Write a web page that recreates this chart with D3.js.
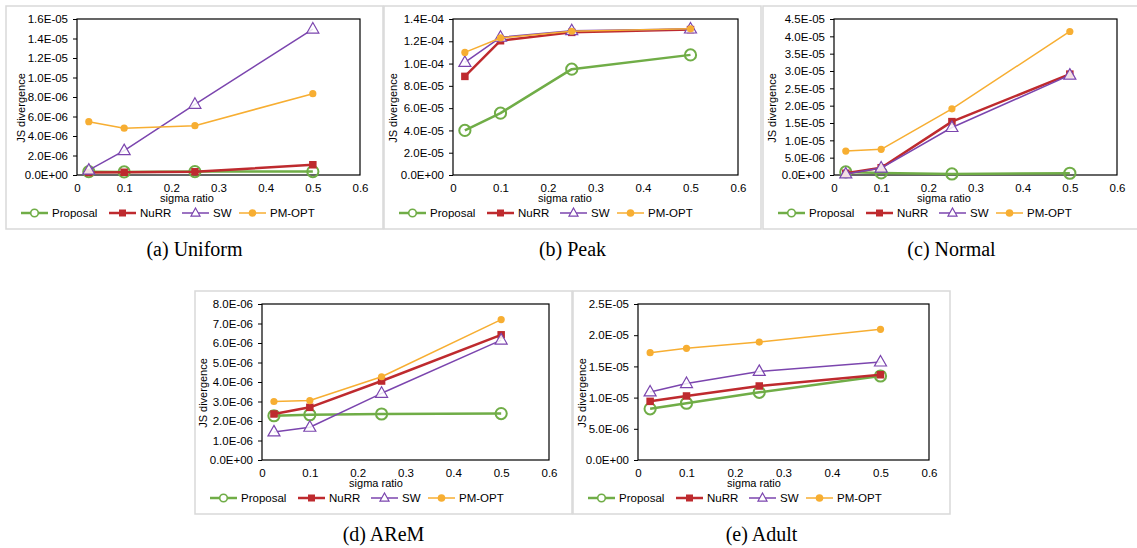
<!DOCTYPE html>
<html><head><meta charset="utf-8">
<script src="https://cdn.jsdelivr.net/npm/d3@7"></script>
<style>
html,body{margin:0;padding:0;background:#fff;}
svg{display:block;}
</style></head>
<body>
<svg id="chart" width="1137" height="548"></svg>
<script>
// ---------- data ----------
const sigmaRatios = [0.025, 0.1, 0.25, 0.5];
const seriesNames = ["Proposal", "NuRR", "SW", "PM-OPT"];
const xTickValues = [0, 0.1, 0.2, 0.3, 0.4, 0.5, 0.6];
const captions = ["(a) Uniform", "(b) Peak", "(c) Normal", "(d) AReM", "(e) Adult"];

const uniformProposal = [3.4e-7, 3.2e-7, 3.5e-7, 3.5e-7];
const uniformNuRR     = [2.6e-7, 2.8e-7, 3.3e-7, 1.05e-6];
const uniformSW       = [5.0e-7, 2.5e-6, 7.25e-6, 1.497e-5];
const uniformPMOPT    = [5.47e-6, 4.8e-6, 5.06e-6, 8.34e-6];
const uniformYTicks   = [0, 2e-6, 4e-6, 6e-6, 8e-6, 1.0e-5, 1.2e-5, 1.4e-5, 1.6e-5];

const peakProposal = [4.0e-5, 5.55e-5, 9.5e-5, 1.078e-4];
const peakNuRR     = [8.85e-5, 1.205e-4, 1.28e-4, 1.305e-4];
const peakSW       = [1.01e-4, 1.236e-4, 1.295e-4, 1.31e-4];
const peakPMOPT    = [1.10e-4, 1.23e-4, 1.29e-4, 1.312e-4];
const peakYTicks   = [0, 2e-5, 4e-5, 6e-5, 8e-5, 1.0e-4, 1.2e-4, 1.4e-4];

const normalProposal = [9e-7, 6e-7, 3e-7, 5e-7];
const normalNuRR     = [5e-7, 2.1e-6, 1.54e-5, 2.91e-5];
const normalSW       = [3e-7, 2.0e-6, 1.37e-5, 2.88e-5];
const normalPMOPT    = [6.9e-6, 7.4e-6, 1.91e-5, 4.14e-5];
const normalYTicks   = [0, 5e-6, 1.0e-5, 1.5e-5, 2.0e-5, 2.5e-5, 3.0e-5, 3.5e-5, 4.0e-5, 4.5e-5];

const aremProposal = [2.27e-6, 2.32e-6, 2.36e-6, 2.38e-6];
const aremNuRR     = [2.36e-6, 2.7e-6, 4.05e-6, 6.42e-6];
const aremSW       = [1.44e-6, 1.68e-6, 3.42e-6, 6.15e-6];
const aremPMOPT    = [3.0e-6, 3.05e-6, 4.27e-6, 7.2e-6];
const aremYTicks   = [0, 1e-6, 2e-6, 3e-6, 4e-6, 5e-6, 6e-6, 7e-6, 8e-6];

const adultProposal = [8.2e-6, 9.1e-6, 1.085e-5, 1.346e-5];
const adultNuRR     = [9.4e-6, 1.026e-5, 1.186e-5, 1.366e-5];
const adultSW       = [1.09e-5, 1.225e-5, 1.42e-5, 1.57e-5];
const adultPMOPT    = [1.72e-5, 1.79e-5, 1.89e-5, 2.094e-5];
const adultYTicks   = [0, 5e-6, 1.0e-5, 1.5e-5, 2.0e-5, 2.5e-5];

// ---------- layout / style ----------
const colors = {"Proposal": "#70AD47", "NuRR": "#BE2A2E", "SW": "#7B45AE", "PM-OPT": "#F7AE32"};
const lineW = {"Proposal": 2.5, "NuRR": 2.5, "SW": 1.5, "PM-OPT": 1.5};

const panels = [
  {left: 6,   top: 6,   px0: 77,  px1: 360,  labX: 21,  series: [uniformProposal, uniformNuRR, uniformSW, uniformPMOPT], yTicks: uniformYTicks},
  {left: 384, top: 6,   px0: 453, px1: 738,  labX: 393, series: [peakProposal, peakNuRR, peakSW, peakPMOPT], yTicks: peakYTicks},
  {left: 763, top: 6,   px0: 834, px1: 1117, labX: 772, series: [normalProposal, normalNuRR, normalSW, normalPMOPT], yTicks: normalYTicks},
  {left: 195, top: 291, px0: 262, px1: 549,  labX: 203, series: [aremProposal, aremNuRR, aremSW, aremPMOPT], yTicks: aremYTicks},
  {left: 573, top: 291, px0: 638, px1: 929,  labX: 582, series: [adultProposal, adultNuRR, adultSW, adultPMOPT], yTicks: adultYTicks}
];
const PW = 377, PH = 223;
const FONT = "'Liberation Sans', Arial, sans-serif";

function fmtE(v) {
  if (v === 0) return "0.0E+00";
  const [m, e] = v.toExponential(1).split("e");
  const n = +e;
  return m + "E" + (n < 0 ? "-" : "+") + String(Math.abs(n)).padStart(2, "0");
}

const svg = d3.select("#chart");

function drawMarker(g, name, x, y, legend) {
  const c = colors[name];
  if (name === "Proposal") {
    g.append("circle").attr("cx", x).attr("cy", y).attr("r", legend ? 3.8 : 5.6)
      .attr("fill", "#fff").attr("fill-opacity", legend ? 1 : 0).attr("stroke", c).attr("stroke-width", legend ? 1.6 : 2);
  } else if (name === "NuRR") {
    const s = legend ? 7 : 7.5;
    g.append("rect").attr("x", x - s / 2).attr("y", y - s / 2).attr("width", s).attr("height", s).attr("fill", c);
  } else if (name === "SW") {
    const w = legend ? 9 : 12, h = legend ? 8 : 10.5;
    g.append("path").attr("d", `M${x},${y - h * 0.62}L${x + w / 2},${y + h * 0.38}L${x - w / 2},${y + h * 0.38}Z`)
      .attr("fill", "#fff").attr("fill-opacity", legend ? 1 : 0.85).attr("stroke", c).attr("stroke-width", 1.2);
  } else {
    g.append("circle").attr("cx", x).attr("cy", y).attr("r", legend ? 3.8 : 3.6).attr("fill", c);
  }
}

panels.forEach((p, pi) => {
  const g = svg.append("g");
  // panel frame
  g.append("rect").attr("x", p.left).attr("y", p.top).attr("width", PW).attr("height", PH)
    .attr("fill", "#fff").attr("stroke", "#d9d9d9").attr("stroke-width", 1.5);

  const py0 = p.top + 13, py1 = p.top + 169;
  const x = d3.scaleLinear().domain([0, 0.6]).range([p.px0, p.px1]);
  const y = d3.scaleLinear().domain([0, p.yTicks[p.yTicks.length - 1]]).range([py1, py0]);

  // y axis
  const ya = g.append("g").attr("transform", `translate(${p.px0},0)`)
    .call(d3.axisLeft(y).tickValues(p.yTicks).tickFormat(fmtE).tickSize(4).tickPadding(5));
  ya.select(".domain").remove();
  ya.selectAll("line").attr("stroke", "#000");
  ya.selectAll("text").attr("font-family", FONT).attr("font-size", 11.5).attr("fill", "#000");

  // x axis
  const xa = g.append("g").attr("transform", `translate(0,${py1})`)
    .call(d3.axisBottom(x).tickValues(xTickValues).tickFormat(d => d === 0 ? "0" : d3.format(".1f")(d)).tickSize(0).tickPadding(9));
  xa.select(".domain").remove();
  xa.selectAll("text").attr("font-family", FONT).attr("font-size", 11.5).attr("fill", "#000");

  // plot frame
  g.append("rect").attr("x", p.px0).attr("y", py0).attr("width", p.px1 - p.px0).attr("height", py1 - py0)
    .attr("fill", "none").attr("stroke", "#000").attr("stroke-width", 1.2);

  // axis titles
  g.append("text").attr("x", p.left + 181).attr("y", p.top + 196).attr("text-anchor", "middle")
    .attr("font-family", FONT).attr("font-size", 11).text("sigma ratio");
  g.append("text").attr("transform", `translate(${p.labX},${p.top + 102}) rotate(-90)`)
    .attr("text-anchor", "middle").attr("dy", "0.35em")
    .attr("font-family", FONT).attr("font-size", 11).text("JS divergence");

  // series
  const line = d3.line().x((d, i) => x(sigmaRatios[i])).y(d => y(d));
  seriesNames.forEach((name, si) => {
    const vals = p.series[si];
    g.append("path").datum(vals).attr("d", line).attr("fill", "none")
      .attr("stroke", colors[name]).attr("stroke-width", lineW[name]).attr("stroke-linejoin", "round");
    vals.forEach((v, i) => drawMarker(g, name, x(sigmaRatios[i]), y(v), false));
  });

  // legend
  const legOff = [15, 103, 176, 233];
  const ly = p.top + 207;
  seriesNames.forEach((name, si) => {
    const lx = p.left + legOff[si];
    g.append("line").attr("x1", lx).attr("x2", lx + 27).attr("y1", ly).attr("y2", ly)
      .attr("stroke", colors[name]).attr("stroke-width", lineW[name]);
    drawMarker(g, name, lx + 13.5, ly, true);
    g.append("text").attr("x", lx + 31).attr("y", ly).attr("dy", "0.36em")
      .attr("font-family", FONT).attr("font-size", 11.5).text(name);
  });

  // caption
  svg.append("text").attr("x", p.left + PW / 2).attr("y", p.top + 250).attr("text-anchor", "middle")
    .attr("font-family", "'Liberation Serif', 'Times New Roman', serif").attr("font-size", 20)
    .text(captions[pi]);
});
</script>
</body></html>
